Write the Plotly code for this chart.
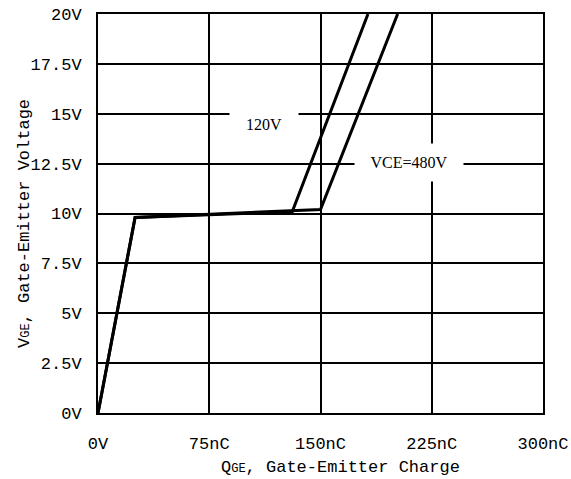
import plotly.graph_objects as go

# Data
q_120 = [0, 25, 131, 182]
v_120 = [0, 9.8, 10.1, 20]
q_480 = [0, 25, 150, 202]
v_480 = [0, 9.8, 10.2, 20]

x_tickvals = [0, 75, 150, 225, 300]
x_ticktext = ["0V", "75nC", "150nC", "225nC", "300nC"]
y_tickvals = [0, 2.5, 5, 7.5, 10, 12.5, 15, 17.5, 20]
y_ticktext = ["0V", "2.5V", "5V", "7.5V", "10V", "12.5V", "15V", "17.5V", "20V"]

MONO = "Liberation Mono"
SERIF = "Liberation Serif"

L, R, T, B = 98, 28, 14, 66
W, H = 571, 479
PW, PH = W - L - R, H - T - B

fig = go.Figure()
fig.add_trace(go.Scatter(x=q_120, y=v_120, mode="lines",
                         line=dict(color="black", width=3), showlegend=False))
fig.add_trace(go.Scatter(x=q_480, y=v_480, mode="lines",
                         line=dict(color="black", width=3), showlegend=False))

fig.update_layout(
    width=W, height=H,
    margin=dict(l=L, r=R, t=T, b=B, autoexpand=False),
    plot_bgcolor="white", paper_bgcolor="white",
    font=dict(family=MONO, size=17, color="black"),
    showlegend=False,
)
fig.update_xaxes(range=[0, 300], tickvals=x_tickvals, ticktext=x_ticktext,
                 showgrid=True, gridcolor="black", gridwidth=2,
                 showline=True, linecolor="black", linewidth=2, mirror=True,
                 ticks="", ticklabelstandoff=14, zeroline=False, automargin=False,
                 tickfont=dict(family=MONO, size=17))
fig.update_yaxes(range=[0, 20], tickvals=y_tickvals, ticktext=y_ticktext,
                 showgrid=True, gridcolor="black", gridwidth=2,
                 showline=True, linecolor="black", linewidth=2, mirror=True,
                 ticks="", ticklabelstandoff=11, zeroline=False, automargin=False,
                 tickfont=dict(family=MONO, size=17))

# Curve labels
fig.add_annotation(x=112, y=14.5, xref="x", yref="y", text="120V", showarrow=False,
                   font=dict(family=SERIF, size=16, color="black"),
                   bgcolor="white", width=66, height=34)
fig.add_annotation(x=209.6, y=12.56, xref="x", yref="y", text="VCE=480V", showarrow=False,
                   font=dict(family=SERIF, size=16, color="black"),
                   bgcolor="white", width=106, height=35)

# Axis titles
fig.add_annotation(xref="paper", yref="paper", x=(340 - L) / PW, y=((H - B) - 467) / PH,
                   xanchor="center", yanchor="middle",
                   text="Q<span style='font-size:12px'>GE</span>, Gate-Emitter Charge",
                   showarrow=False, font=dict(family=MONO, size=17, color="black"))
fig.add_annotation(xref="paper", yref="paper", x=(24 - L) / PW, y=((H - B) - 224) / PH,
                   xanchor="center", yanchor="middle",
                   text="V<span style='font-size:12px'>GE</span>, Gate-Emitter Voltage",
                   textangle=-90, showarrow=False,
                   font=dict(family=MONO, size=17, color="black"))

fig.write_html("out.html")
